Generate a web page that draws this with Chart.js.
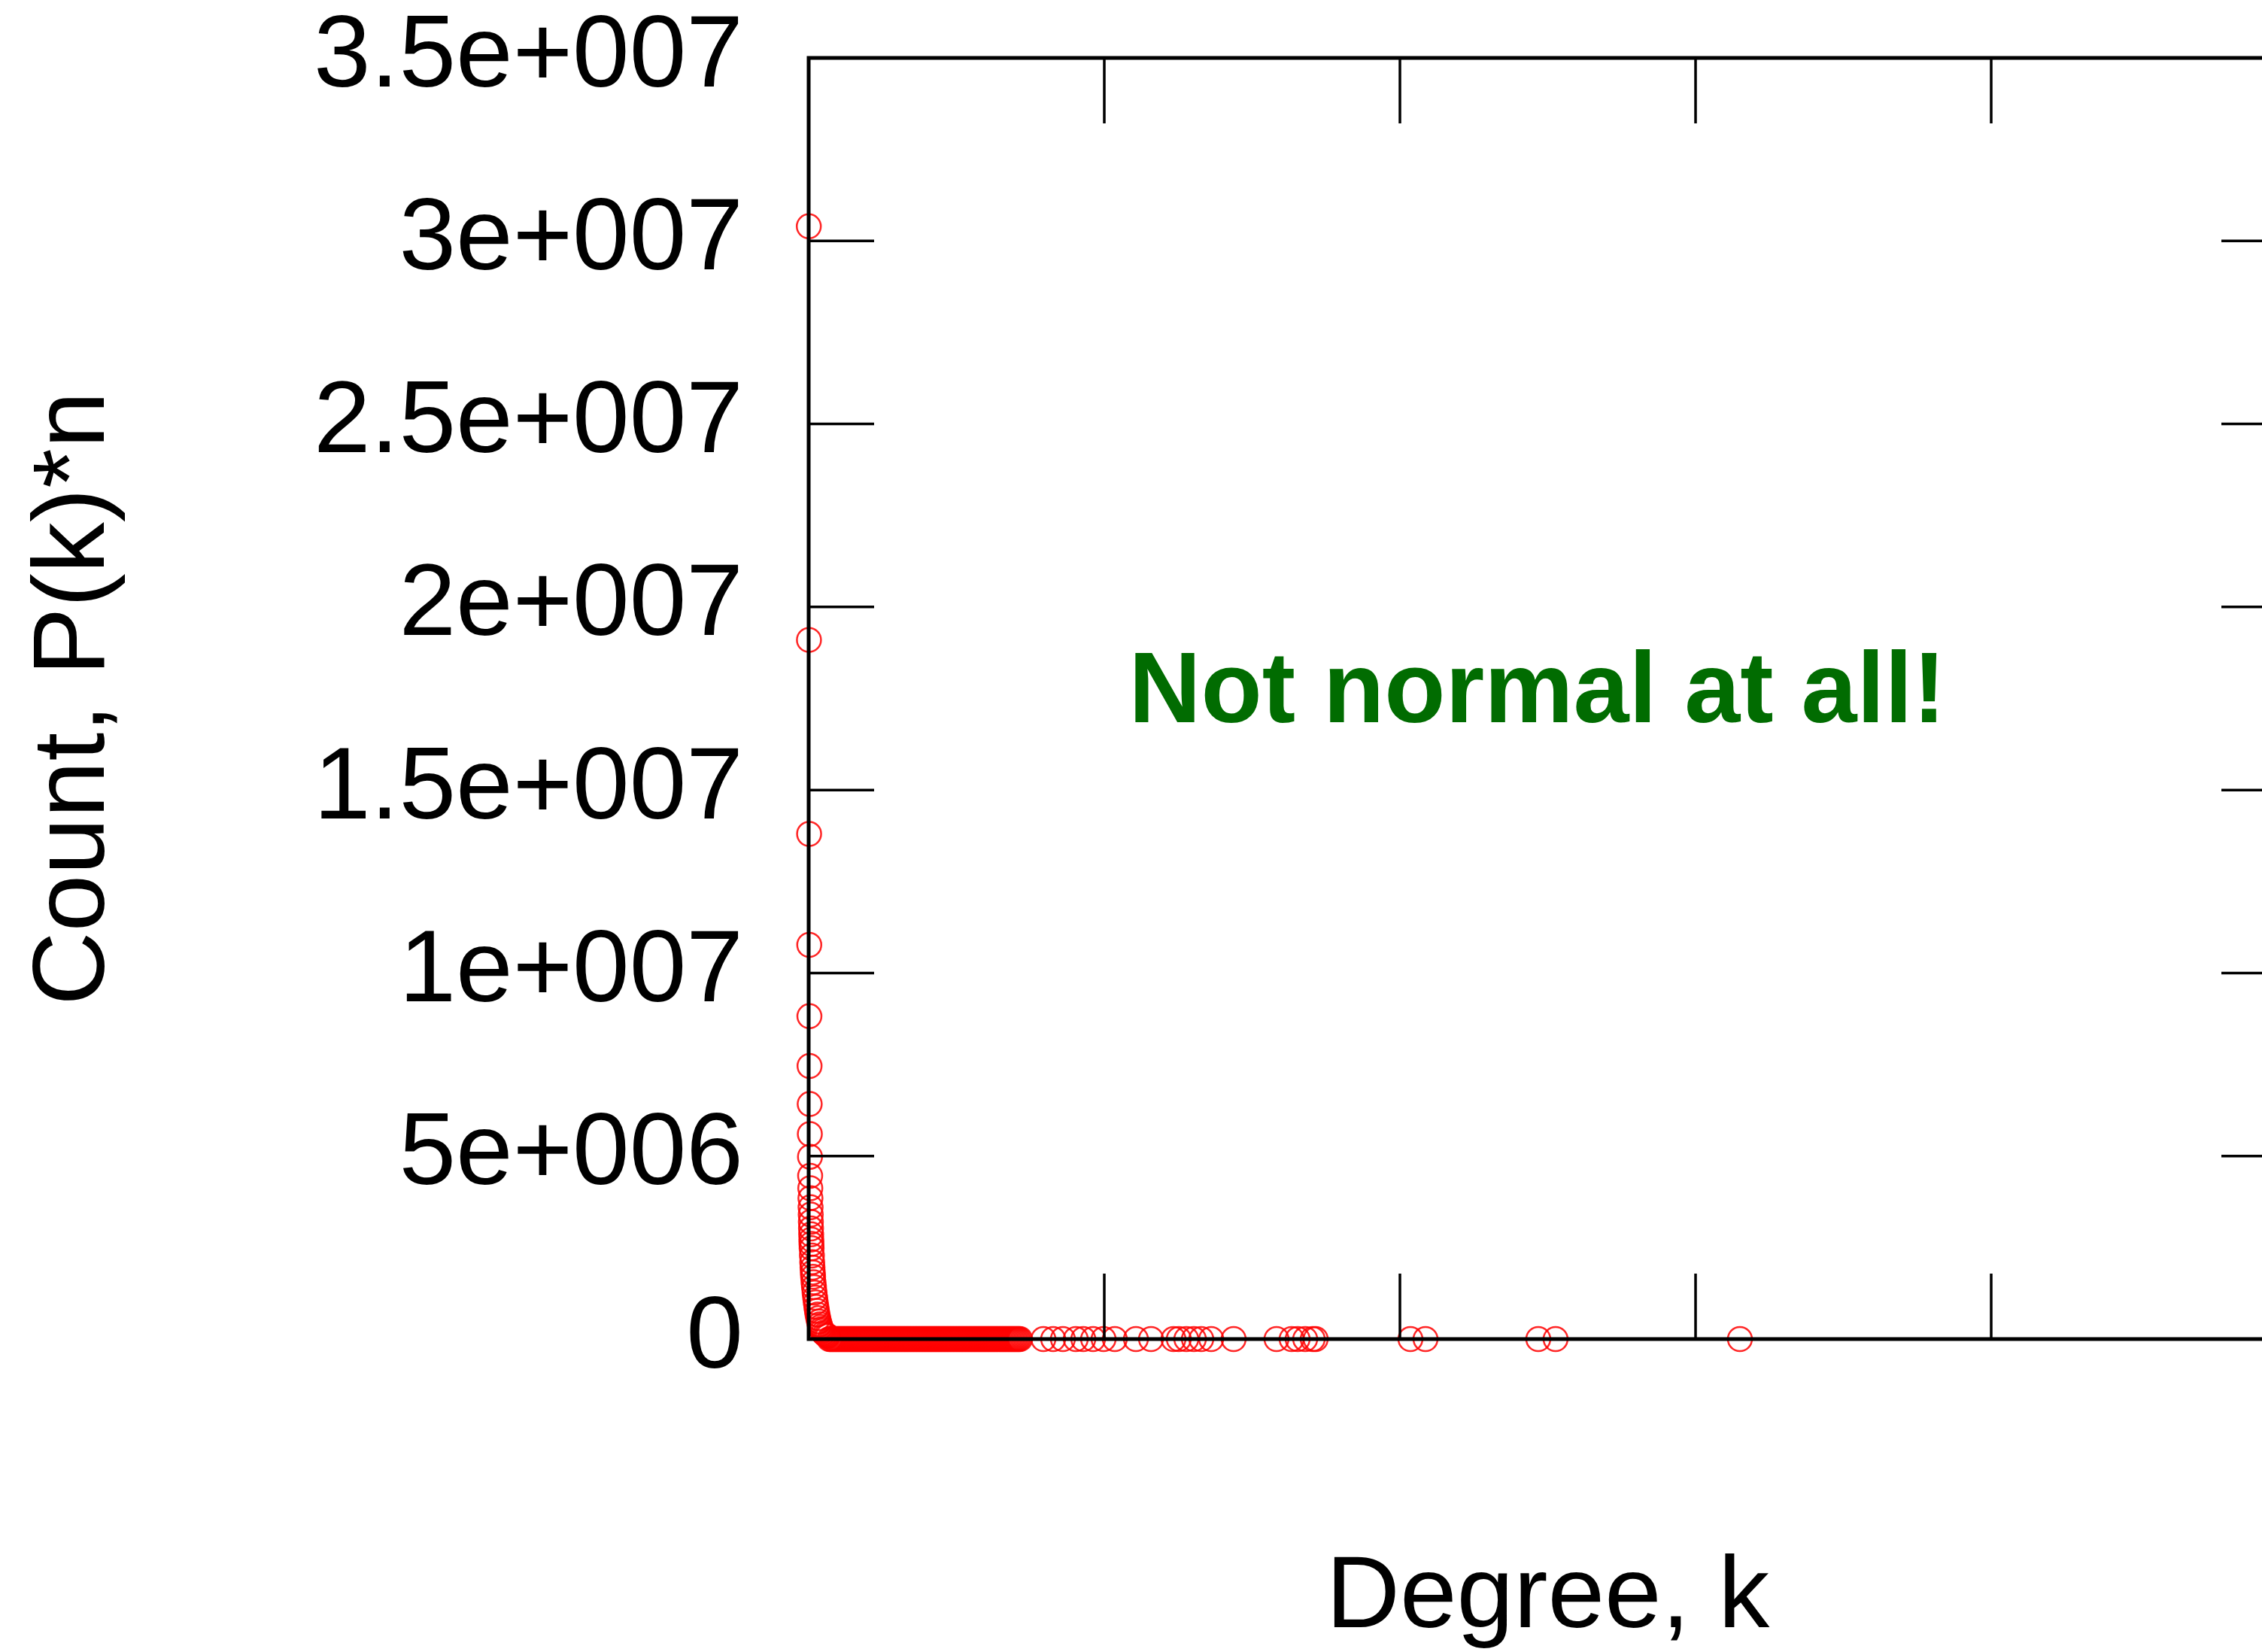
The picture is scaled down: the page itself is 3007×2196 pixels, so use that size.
<!DOCTYPE html>
<html>
<head>
<meta charset="utf-8">
<title>Degree distribution</title>
<script src="https://cdn.jsdelivr.net/npm/chart.js@4.4.1/dist/chart.umd.min.js"></script>
<style>
    html, body { margin: 0; padding: 0; background: #fff; overflow: hidden; }
    canvas { display: block; }
</style>
</head>
<body>
<canvas id="degreeChart" width="3100" height="2196"></canvas>
<script>
// Datos (aprox.)

// Grados bajos: puntos apilados sobre el eje y
const headDegrees = [1, 2, 3, 4, 5, 6, 7, 8, 9, 10,
    11, 12, 13, 14, 15, 16, 17, 18, 19, 20,
    22, 24, 26, 28, 30, 33, 36, 40, 44, 48,
    52, 56, 60, 65, 70, 75, 80, 86, 92, 100,
    110, 120, 130];
const headCounts = [3.04e7, 1.91e7, 1.38e7, 1.077e7, 8.82e6, 7.46e6, 6.42e6, 5.6e6, 4.98e6, 4.46e6,
    4.12e6, 3.85e6, 3.6e6, 3.4e6, 3.2e6, 3.02e6, 2.86e6, 2.72e6, 2.6e6, 2.48e6,
    2.28e6, 2.1e6, 1.95e6, 1.82e6, 1.7e6, 1.55e6, 1.42e6, 1.27e6, 1.13e6, 1.0e6,
    8.8e5, 7.7e5, 6.7e5, 5.7e5, 4.8e5, 4.0e5, 3.3e5, 2.7e5, 2.2e5, 1.7e5,
    1.3e5, 1.0e5, 8e4];

// Banda densa sobre y = 0 (cuentas ~0 a esta escala)
const bandDegrees = [140, 150, 160, 170, 180, 190, 200, 210, 220, 230,
    240, 250, 260, 270, 280, 290, 300, 310, 320, 330,
    340, 350, 360, 370, 380, 390, 400, 410, 420, 430,
    440, 450, 460, 470, 480, 490, 500, 510, 520, 530,
    540, 550, 560, 570, 580, 590, 600, 610, 620, 630,
    640, 650, 660, 670, 680, 690, 700, 710, 720, 730,
    740, 750, 760, 770, 780, 790, 800, 810, 820, 830,
    840, 850, 860, 870, 880, 890, 900, 910, 920, 930,
    940, 950, 960, 970, 980, 990, 1000, 1010, 1020, 1030,
    1040, 1050, 1060, 1070, 1080, 1090, 1100, 1110, 1120, 1130,
    1140, 1150, 1160, 1170, 1180, 1190, 1200, 1210, 1220, 1230,
    1240, 1250, 1260, 1270, 1280, 1290, 1300, 1310, 1320, 1330,
    1340, 1350, 1360, 1370, 1380, 1390, 1400, 1410, 1420, 1430];

// Cola: grados sueltos (cuenta ~0)
const tailDegrees = [1588, 1654, 1720, 1807, 1858, 1924, 1995, 2071, 2214, 2316,
    2468, 2504, 2555, 2606, 2656, 2723, 2875, 3165, 3267, 3308,
    3359, 3410, 3430, 4071, 4173, 4936, 5053, 6300];

// Ejes
const yTickValues = [0, 5e6, 1e7, 1.5e7, 2e7, 2.5e7, 3e7, 3.5e7];
const xMax = 10000;
const xStep = 2000;

const noteText = 'Not normal at all!';
const noteX = 2165;
const noteY = 1.685e7;

// Etiquetas tipo gnuplot: 5e+006, 1.5e+007
function gnuFormat(v) {
    if (v === 0) return '0';
    const e = Math.floor(Math.log10(v) + 1e-9);
    const m = Math.round(v / Math.pow(10, e) * 100) / 100;
    return m + 'e+' + String(e).padStart(3, '0');
}

const ringStyle = {
    pointStyle: 'circle',
    pointRadius: 16,
    pointBorderWidth: 2.5,
    pointBorderColor: 'rgba(255, 0, 0, 0.85)',
    pointBackgroundColor: 'rgba(0, 0, 0, 0)',
    showLine: false,
    clip: false
};

// Marco y marcas hacia dentro, más el texto verde
const framePlugin = {
    id: 'frame',
    afterDatasetsDraw(chart) {
        const { ctx, chartArea: a, scales: { x, y } } = chart;
        ctx.save();
        ctx.strokeStyle = '#000';
        ctx.lineWidth = 3.5;
        ctx.beginPath();
        x.ticks.forEach(t => {
            const px = x.getPixelForValue(t.value);
            ctx.moveTo(px, a.bottom); ctx.lineTo(px, a.bottom - 87);
            ctx.moveTo(px, a.top); ctx.lineTo(px, a.top + 87);
        });
        y.ticks.forEach(t => {
            const py = y.getPixelForValue(t.value);
            ctx.moveTo(a.left, py); ctx.lineTo(a.left + 87, py);
            ctx.moveTo(a.right, py); ctx.lineTo(a.right - 87, py);
        });
        ctx.stroke();
        ctx.lineWidth = 5;
        ctx.strokeRect(a.left, a.top, a.right - a.left, a.bottom - a.top);

        ctx.fillStyle = '#016c01';
        ctx.font = 'bold 133px "Liberation Sans", Arial, sans-serif';
        ctx.textAlign = 'left';
        ctx.textBaseline = 'alphabetic';
        ctx.fillText(noteText, x.getPixelForValue(noteX), y.getPixelForValue(noteY));
        ctx.restore();
    }
};

const axisFont = { family: '"Liberation Sans", Arial, sans-serif', size: 136, lineHeight: 1 };

const degreeChart = new Chart(document.getElementById('degreeChart'), {
    type: 'scatter',
    data: {
        datasets: [
            { ...ringStyle, data: headDegrees.map((k, i) => ({ x: k, y: headCounts[i] })) },
            { ...ringStyle, data: bandDegrees.map(k => ({ x: k, y: 0 })) },
            { ...ringStyle, data: tailDegrees.map(k => ({ x: k, y: 0 })) }
        ]
    },
    options: {
        responsive: false,
        devicePixelRatio: 1,
        animation: false,
        events: [],
        layout: { padding: { top: 77, right: 60, bottom: 0, left: 0 } },
        plugins: { legend: { display: false }, tooltip: { enabled: false } },
        scales: {
            x: {
                type: 'linear',
                min: 0,
                max: xMax,
                ticks: { display: false, stepSize: xStep },
                grid: { display: false, drawTicks: false },
                border: { display: false },
                title: { display: true, text: 'Degree, k', color: '#000', font: axisFont, padding: { top: 0, bottom: 3 } },
                afterFit: s => { s.height = 416; s.paddingLeft = 0; s.paddingRight = 0; }
            },
            y: {
                type: 'linear',
                min: 0,
                max: 3.5e7,
                afterBuildTicks: s => { s.ticks = yTickValues.map(v => ({ value: v })); },
                ticks: { color: '#000', font: axisFont, padding: 87, autoSkip: false, callback: v => gnuFormat(v) },
                grid: { display: false, drawTicks: false },
                border: { display: false },
                title: { display: true, text: 'Count, P(k)*n', color: '#000', font: axisFont, padding: { top: 32, bottom: 0 } },
                afterFit: s => { s.width = 1075; s.paddingTop = 0; s.paddingBottom = 0; }
            }
        }
    },
    plugins: [framePlugin]
});
</script>
</body>
</html>
